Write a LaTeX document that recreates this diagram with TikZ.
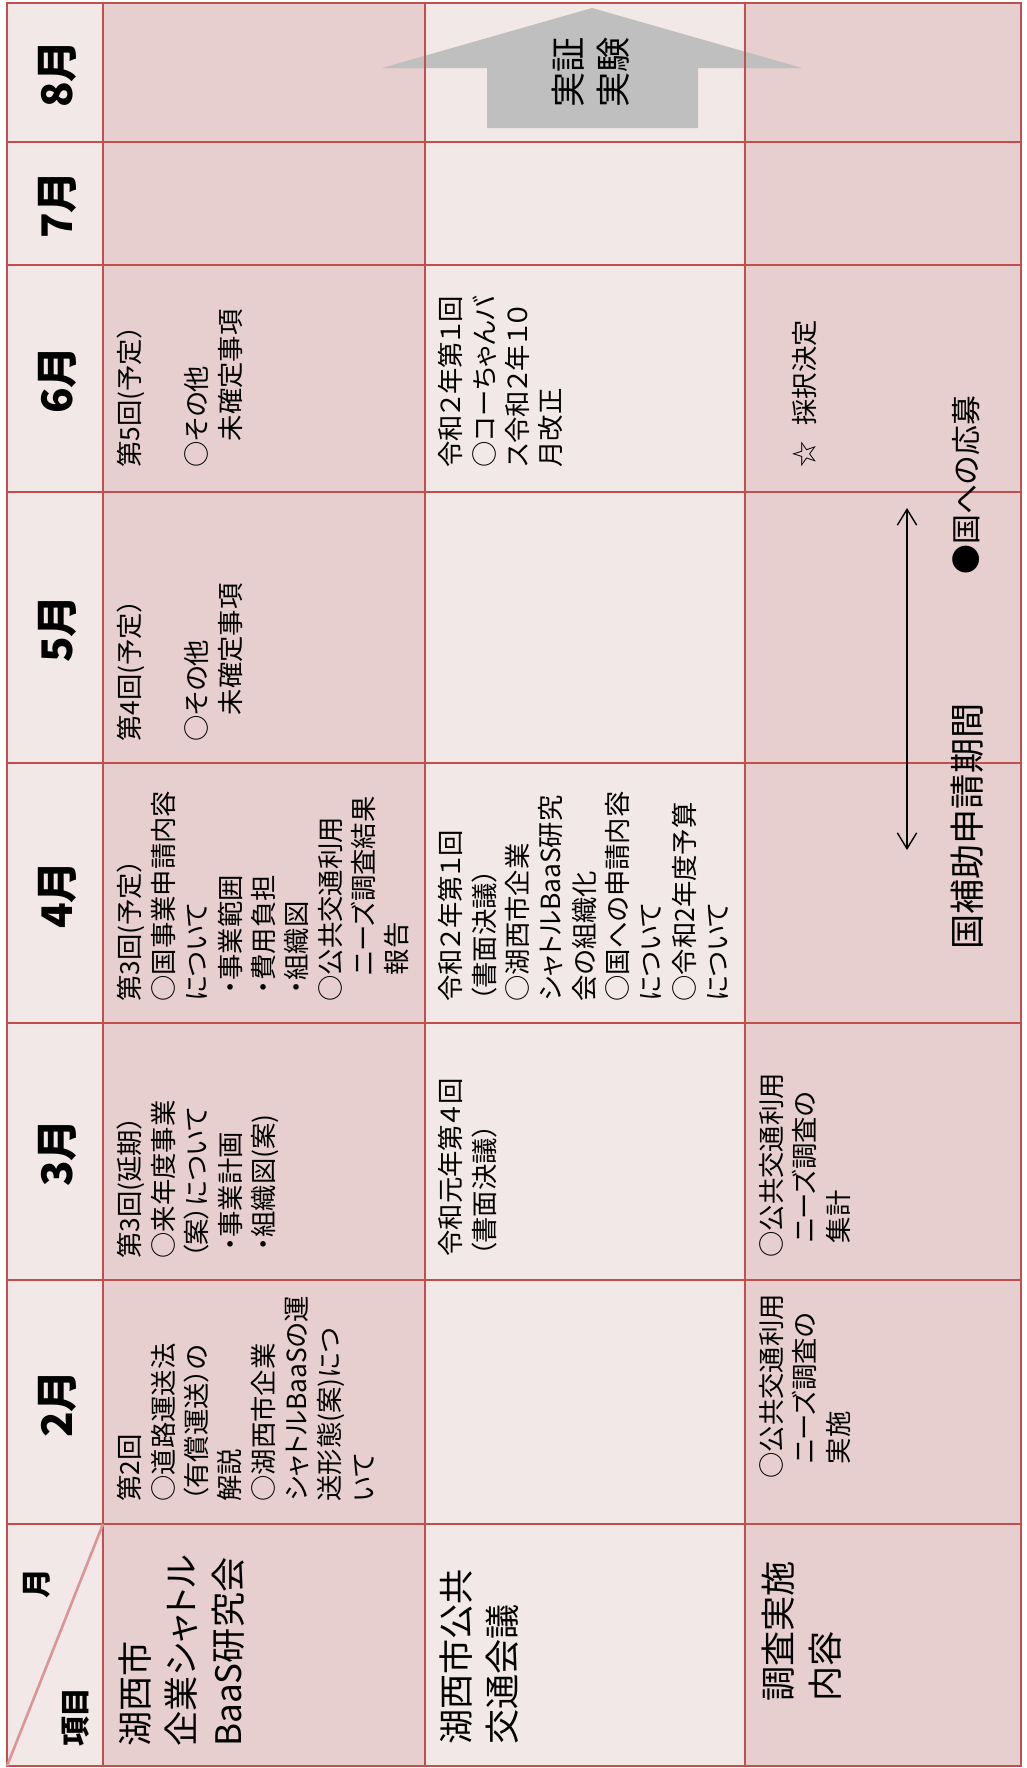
\documentclass[tikz,border=0pt]{standalone}
\usepackage{fontspec}
\setmainfont{Noto Sans CJK JP}[RawFeature=+palt]
\usetikzlibrary{arrows.meta}
\definecolor{gridred}{RGB}{192,80,77}
\definecolor{cellpale}{RGB}{243,232,232}
\definecolor{celldeep}{RGB}{231,207,208}
\definecolor{diagred}{RGB}{218,150,148}
\definecolor{arrowgray}{RGB}{191,191,191}

\begin{document}
\begin{tikzpicture}[
        x=0.02cm, y=-0.02cm,
        gridline/.style={draw=gridred, line width=1.5pt},
        month/.style={rotate=90, inner sep=0pt, font=\bfseries\fontsize{24pt}{28pt}\selectfont},
        corner/.style={rotate=90, inner sep=0pt, font=\bfseries\fontsize{17pt}{20pt}\selectfont},
        item/.style={anchor=north west, rotate=90, inner sep=0pt, align=left, font=\fontsize{20pt}{26.5pt}\selectfont},
        cell/.style={anchor=north west, rotate=90, inner sep=0pt, align=left, font=\fontsize{15pt}{19pt}\selectfont},
        note/.style={anchor=west, rotate=90, inner sep=0pt}
    ]
        \useasboundingbox (0,0) rectangle (1027,1768);

        % column shading
        \fill[cellpale] (7,3) rectangle (103,1766);
        \fill[celldeep] (103,3) rectangle (425,1766);
        \fill[cellpale] (425,3) rectangle (745,1766);
        \fill[celldeep] (745,3) rectangle (1021,1766);

        % trial arrow
        \fill[arrowgray] (592,8) -- (802,68) -- (698,68) -- (698,128) -- (487,128) -- (487,68) -- (382,68) -- cycle;

        % grid
        \draw[gridline] (7,3) rectangle (1021,1766);
        \foreach \gx in {103,425,745} \draw[gridline] (\gx,3) -- (\gx,1766);
        \foreach \gy in {142,265,492,763,1023,1280,1524} \draw[gridline] (7,\gy) -- (1021,\gy);
        \draw[diagred, line width=1.5pt] (103,1524) -- (7,1766);

        % months
        \node[month] (m8) at (57,74) {8月};
        \node[month] (m7) at (57,205) {7月};
        \node[month] (m6) at (57,380) {6月};
        \node[month] (m5) at (57,629) {5月};
        \node[month] (m4) at (57,895) {4月};
        \node[month] (m3) at (57,1153) {3月};
        \node[month] (m2) at (57,1404) {2月};

        % corner
        \node[corner] (hdmonth) at (37,1584) {月};
        \node[corner] (hditem) at (76,1717) {項目};

        % items
        \node[item] (itemstudy) at (118,1747) {湖西市\\企業シャトル\\BaaS研究会};
        \node[item] (itemcouncil) at (439,1745) {湖西市公共\\交通会議};
        \node[item] (itemsurvey) at (762,1702) {調査実施\\内容};

        % study group
        \node[cell] (study2) at (117,1502) {第2回\\○道路運送法\\（有償運送）の\\解説\\○湖西市企業\\シャトルBaaSの運\\送形態(案)につ\\いて};
        \node[cell] (study3) at (117,1259) {第3回(延期）\\○来年度事業\\（案）について\\\hspace{0.3em}・事業計画\\\hspace{0.3em}・組織図(案)};
        \node[cell] (study4) at (117,1002) {第3回(予定）\\○国事業申請内容\\について\\\hspace{0.3em}・事業範囲\\\hspace{0.3em}・費用負担\\\hspace{0.3em}・組織図\\○公共交通利用\\　ニーズ調査結果\\　報告};
        \node[cell] (study5) at (117,742) {第4回(予定）\\\mbox{}\\○その他\\　未確定事項};
        \node[cell] (study6) at (117,468) {第5回(予定）\\\mbox{}\\○その他\\　未確定事項};

        % transport council
        \node[cell] (council3) at (438,1257) {令和元年第４回\\（書面決議）};
        \node[cell] (council4) at (438,1002) {令和２年第１回\\（書面決議）\\○湖西市企業\\シャトルBaaS研究\\会の組織化\\○国への申請内容\\について\\○令和2年度予算\\について};
        \node[cell] (council6) at (438,468) {令和２年第１回\\○コーちゃんバ\\ス令和２年１０\\月改正};

        % survey
        \node[cell] (survey2) at (759,1479) {○公共交通利用\\\hspace{0.55em}ニーズ調査の\\\hspace{0.55em}実施};
        \node[cell] (survey3) at (759,1258) {○公共交通利用\\\hspace{0.55em}ニーズ調査の\\\hspace{0.55em}集計};
        \node[cell] (survey6) at (792,468) {☆\hspace{0.6em}採択決定};

        % application period
        \node[note, font=\fontsize{17pt}{20pt}\selectfont] (apply) at (966,575) {●国への応募};
        \node[note, font=\fontsize{20pt}{24pt}\selectfont] (period) at (967,950) {国補助申請期間};
        \coordinate (apptop) at (907,508);
        \coordinate (append) at (907,850);
        \draw[line width=0.8pt, {Straight Barb[length=9pt,width=11pt]}-{Straight Barb[length=9pt,width=11pt]}] (apptop) -- (append);

        \node[item, font=\fontsize{20pt}{25.6pt}\selectfont] (trial) at (552,108) {実証\\実験};

    \end{tikzpicture}
\end{document}
